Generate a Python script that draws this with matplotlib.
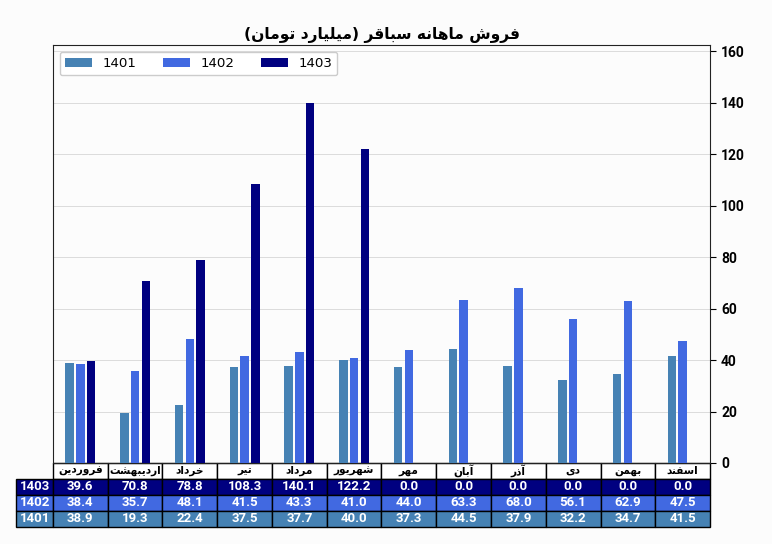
import matplotlib
matplotlib.use('Agg')
import matplotlib.pyplot as plt
from matplotlib.table import Table
import numpy as np

# Persian letters -> (isolated, final, initial, medial) presentation forms
FORMS = {
    '\u0622': ('\uFE81', '\uFE82', None, None),
    '\u0627': ('\uFE8D', '\uFE8E', None, None),
    '\u0628': ('\uFE8F', '\uFE90', '\uFE91', '\uFE92'),
    '\u062A': ('\uFE95', '\uFE96', '\uFE97', '\uFE98'),
    '\u062E': ('\uFEA5', '\uFEA6', '\uFEA7', '\uFEA8'),
    '\u062F': ('\uFEA9', '\uFEAA', None, None),
    '\u0630': ('\uFEAB', '\uFEAC', None, None),
    '\u0631': ('\uFEAD', '\uFEAE', None, None),
    '\u0633': ('\uFEB1', '\uFEB2', '\uFEB3', '\uFEB4'),
    '\u0634': ('\uFEB5', '\uFEB6', '\uFEB7', '\uFEB8'),
    '\u0641': ('\uFED1', '\uFED2', '\uFED3', '\uFED4'),
    '\u0642': ('\uFED5', '\uFED6', '\uFED7', '\uFED8'),
    '\u0644': ('\uFEDD', '\uFEDE', '\uFEDF', '\uFEE0'),
    '\u0645': ('\uFEE1', '\uFEE2', '\uFEE3', '\uFEE4'),
    '\u0646': ('\uFEE5', '\uFEE6', '\uFEE7', '\uFEE8'),
    '\u0647': ('\uFEE9', '\uFEEA', '\uFEEB', '\uFEEC'),
    '\u0648': ('\uFEED', '\uFEEE', None, None),
    '\u06CC': ('\uFBFC', '\uFBFD', '\uFBFE', '\uFBFF'),
}


def fa(text):
    # join letters and flip for left-to-right drawing
    out = []
    for i, ch in enumerate(text):
        if ch not in FORMS:
            out.append(ch)
            continue
        prev = text[i - 1] if i > 0 else ''
        nxt = text[i + 1] if i + 1 < len(text) else ''
        iso, fin, ini, med = FORMS[ch]
        jp = prev in FORMS and FORMS[prev][2] is not None
        jn = ini is not None and nxt in FORMS
        if jp and jn:
            out.append(med)
        elif jp:
            out.append(fin)
        elif jn:
            out.append(ini)
        else:
            out.append(iso)
    s = ''.join(out)[::-1]
    return s.translate(str.maketrans('()', ')('))


title = 'فروش ماهانه سباقر (میلیارد تومان)'
months = ['فروردین', 'اردیبهشت', 'خرداد', 'تیر', 'مرداد', 'شهریور',
          'مهر', 'آبان', 'آذر', 'دی', 'بهمن', 'اسفند']
years = ['1401', '1402', '1403']
sales_1401 = [38.9, 19.3, 22.4, 37.5, 37.7, 40.0, 37.3, 44.5, 37.9, 32.2, 34.7, 41.5]
sales_1402 = [38.4, 35.7, 48.1, 41.5, 43.3, 41.0, 44.0, 63.3, 68.0, 56.1, 62.9, 47.5]
sales_1403 = [39.6, 70.8, 78.8, 108.3, 140.1, 122.2, 0.0, 0.0, 0.0, 0.0, 0.0, 0.0]
colors = ['#4682B4', '#4169E1', '#000080']

series = [sales_1401, sales_1402, sales_1403]

fig = plt.figure(figsize=(7.72, 5.44), dpi=100, facecolor='#fcfcfc')
ax = fig.add_axes([53 / 772, 1 - 463 / 544, 657 / 772, 418 / 544])
ax.set_facecolor('#fcfcfc')

x = np.arange(len(months))
w = 0.155
for k, (vals, yr, c) in enumerate(zip(series, years, colors)):
    ax.bar(x + (k - 1) * 0.195, vals, w, color=c, label=yr, zorder=3)

ax.set_xlim(-0.5, 11.5)
ax.set_ylim(0, 162.5)
ax.set_xticks([])
ax.yaxis.tick_right()
ax.set_yticks(np.arange(0, 161, 20))
for lab in ax.get_yticklabels():
    lab.set_fontfamily('Roboto')
    lab.set_fontweight('bold')
    lab.set_fontsize(10)
ax.tick_params(axis='y', length=4, pad=4)
ax.grid(axis='y', color='#dcdcdc', linewidth=0.7, zorder=0)
for s in ax.spines.values():
    s.set_color('#222222')

ax.set_title(fa(title), fontsize=11.2, fontweight='bold', family='DejaVu Sans', pad=4)
ax.legend(loc='upper left', ncol=3, fontsize=9.6, framealpha=1, edgecolor='#cccccc')

# table under the bars
rows = [sales_1403, sales_1402, sales_1401]
row_labels = ['1403', '1402', '1401']
row_cols = ['#000080', '#4169E1', '#4682B4']

lw = 37 / 657
cw = 1 / 12
rh = 16 / 418
tbl = Table(ax, bbox=[0, -4 * rh, 1, 4 * rh])
tbl.auto_set_font_size(False)
for j, m in enumerate(months):
    cell = tbl.add_cell(0, j, cw, rh, text=fa(m), loc='center', facecolor='white')
    cell.get_text().set_color('black')
    cell.get_text().set_fontsize(7.6)
    cell.get_text().set_fontfamily('DejaVu Sans')
for i, (lab, vals, c) in enumerate(zip(row_labels, rows, row_cols)):
    cell = tbl.add_cell(i + 1, -1, lw, rh, text=lab, loc='left', facecolor=c)
    cell.get_text().set_fontsize(9.5)
    for j, v in enumerate(vals):
        cell = tbl.add_cell(i + 1, j, cw, rh, text='%.1f' % v, loc='center', facecolor=c)
        cell.get_text().set_fontsize(9.5)
for (r, c), cell in tbl.get_celld().items():
    cell.set_edgecolor('black')
    cell.set_linewidth(1.0)
    t = cell.get_text()
    t.set_fontweight('bold')
    if r > 0:
        t.set_color('white')
        t.set_fontfamily('Roboto')
ax.add_table(tbl)

fig.savefig('out.png', dpi=100, facecolor=fig.get_facecolor())
